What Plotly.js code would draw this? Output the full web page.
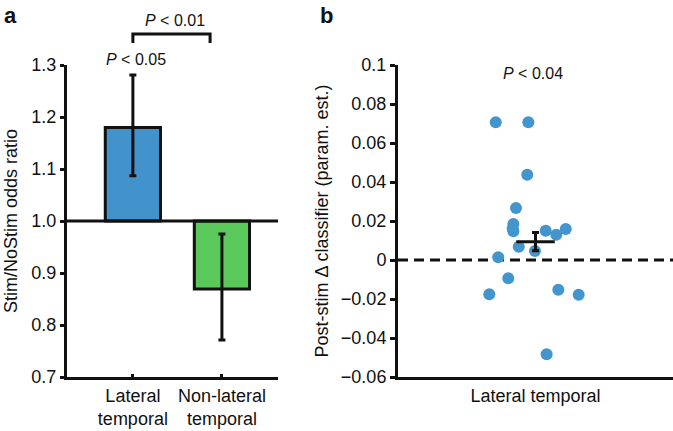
<!DOCTYPE html>
<html>
<head>
<meta charset="utf-8">
<script src="https://cdn.plot.ly/plotly-3.0.1.min.js"></script>
<style>html,body{margin:0;padding:0;background:#fff;}#chart{width:673px;height:431px;}</style>
</head>
<body>
<div id="chart"></div>
<script>
// ---- Panel a data ----
const regionsA = ["Lateral<br>temporal", "Non-lateral<br>temporal"];
const regionPos = [0, 1];
const oddsRatio = [1.18, 0.869];
const oddsErrPlus = [0.101, 0.106];
const oddsErrMinus = [0.093, 0.098];
const baselineRatio = 1.0;
const barColors = ["#4292cb", "#5ac85a"];

// ---- Panel b data ----
const regionB = ["Lateral temporal"];
const classifierDelta = [0.0706, 0.0706, 0.0437, 0.0267, 0.0185, 0.0162, 0.0147, 0.0068, 0.0046,
                         0.0150, 0.0130, 0.0159, 0.0014, -0.0094, -0.0176, -0.0152, -0.0178, -0.0483];
const jitter = [-0.289, -0.052, -0.060, -0.142, -0.161, -0.166, -0.161, -0.122, -0.004,
                0.074, 0.151, 0.220, -0.271, -0.198, -0.336, 0.166, 0.314, 0.081];
const meanDelta = [0.0094];
const semDelta = [0.0047];
const meanHalfWidth = 0.14;

const FONT = "Liberation Sans, Arial, Helvetica, sans-serif";
const INK = "#111111";

const traces = [
  {
    type: "bar", x: regionPos, y: oddsRatio.map(v => v - baselineRatio), base: baselineRatio,
    width: 0.62, marker: {color: barColors, line: {color: INK, width: 3}},
    xaxis: "x", yaxis: "y", hoverinfo: "skip"
  },
  {
    type: "scatter", mode: "markers", x: regionPos, y: oddsRatio,
    marker: {opacity: 0, size: 1},
    error_y: {type: "data", symmetric: false, array: oddsErrPlus, arrayminus: oddsErrMinus,
              color: INK, thickness: 3, width: 3.5},
    xaxis: "x", yaxis: "y", hoverinfo: "skip"
  },
  {
    type: "scatter", mode: "markers", x: jitter, y: classifierDelta,
    marker: {color: "#4396cd", size: 12},
    xaxis: "x2", yaxis: "y2", hoverinfo: "skip"
  },
  {
    type: "scatter", mode: "markers", x: [0], y: meanDelta,
    marker: {opacity: 0, size: 1},
    error_x: {type: "constant", value: meanHalfWidth, color: INK, thickness: 3, width: 0},
    error_y: {type: "data", array: semDelta, color: INK, thickness: 3, width: 3.5},
    xaxis: "x2", yaxis: "y2", hoverinfo: "skip"
  }
];

const commonAxis = {
  showline: true, linewidth: 3, linecolor: INK, showgrid: false, zeroline: false,
  tickcolor: INK, tickfont: {family: FONT, size: 18, color: INK}, fixedrange: true
};

const layout = {
  width: 673, height: 431,
  margin: {l: 67, r: 0, t: 65, b: 54},
  paper_bgcolor: "#fff", plot_bgcolor: "#fff",
  showlegend: false,
  font: {family: FONT, color: INK},
  xaxis: Object.assign({}, commonAxis, {
    domain: [0, 0.3482], range: [-0.74, 1.63],
    tickvals: regionPos, ticktext: regionsA, ticks: "inside", ticklen: 3, tickwidth: 3,
    tickfont: {family: FONT, size: 18, color: INK}
  }),
  yaxis: Object.assign({}, commonAxis, {
    range: [0.7, 1.3], dtick: 0.1, tickformat: ".1f",
    ticks: "outside", ticklen: 4, tickwidth: 3,
    title: {text: "Stim/NoStim odds ratio", font: {family: FONT, size: 18, color: INK}, standoff: 10}
  }),
  xaxis2: Object.assign({}, commonAxis, {
    domain: [0.5462, 1], anchor: "y2", range: [-1, 1],
    tickvals: [0], ticktext: regionB, ticks: "",
    tickfont: {family: FONT, size: 18, color: INK}
  }),
  yaxis2: Object.assign({}, commonAxis, {
    anchor: "x2", range: [-0.06, 0.1], dtick: 0.02,
    ticks: "outside", ticklen: 5, tickwidth: 3,
    title: {text: "Post-stim Δ classifier (param. est.)", font: {family: FONT, size: 18, color: INK}, standoff: 8}
  }),
  shapes: [
    {type: "line", xref: "x domain", yref: "y", x0: 0, x1: 1, y0: baselineRatio, y1: baselineRatio,
     line: {color: INK, width: 3}, layer: "above"},
    {type: "line", xref: "x2 domain", yref: "y2", x0: 0, x1: 1, y0: 0, y1: 0,
     line: {color: INK, width: 3, dash: "10px,6px"}, layer: "below"},
    {type: "path", xref: "x", yref: "paper",
     path: "M 0,1.0705 L 0,1.0994 L 0.867,1.0994 L 0.867,1.0705",
     line: {color: INK, width: 3}}
  ],
  annotations: [
    {xref: "paper", yref: "paper", x: -0.108, y: 1.205, xanchor: "left", yanchor: "top",
     text: "<b>a</b>", showarrow: false, font: {family: FONT, size: 22, color: INK}},
    {xref: "paper", yref: "paper", x: 0.415, y: 1.205, xanchor: "left", yanchor: "top",
     text: "<b>b</b>", showarrow: false, font: {family: FONT, size: 22, color: INK}},
    {xref: "x", yref: "paper", x: 0.04, y: 1.0, xanchor: "center", yanchor: "bottom", yshift: -5,
     text: "<i>P</i> < 0.05", showarrow: false, font: {family: FONT, size: 16, color: INK}},
    {xref: "x", yref: "paper", x: 0.47, y: 1.11, xanchor: "center", yanchor: "bottom",
     text: "<i>P</i> < 0.01", showarrow: false, font: {family: FONT, size: 16, color: INK}},
    {xref: "x2", yref: "paper", x: -0.02, y: 0.974, xanchor: "center", yanchor: "middle",
     text: "<i>P</i> < 0.04", showarrow: false, font: {family: FONT, size: 16, color: INK}}
  ]
};

Plotly.newPlot("chart", traces, layout, {displayModeBar: false, staticPlot: true});
</script>
</body>
</html>
